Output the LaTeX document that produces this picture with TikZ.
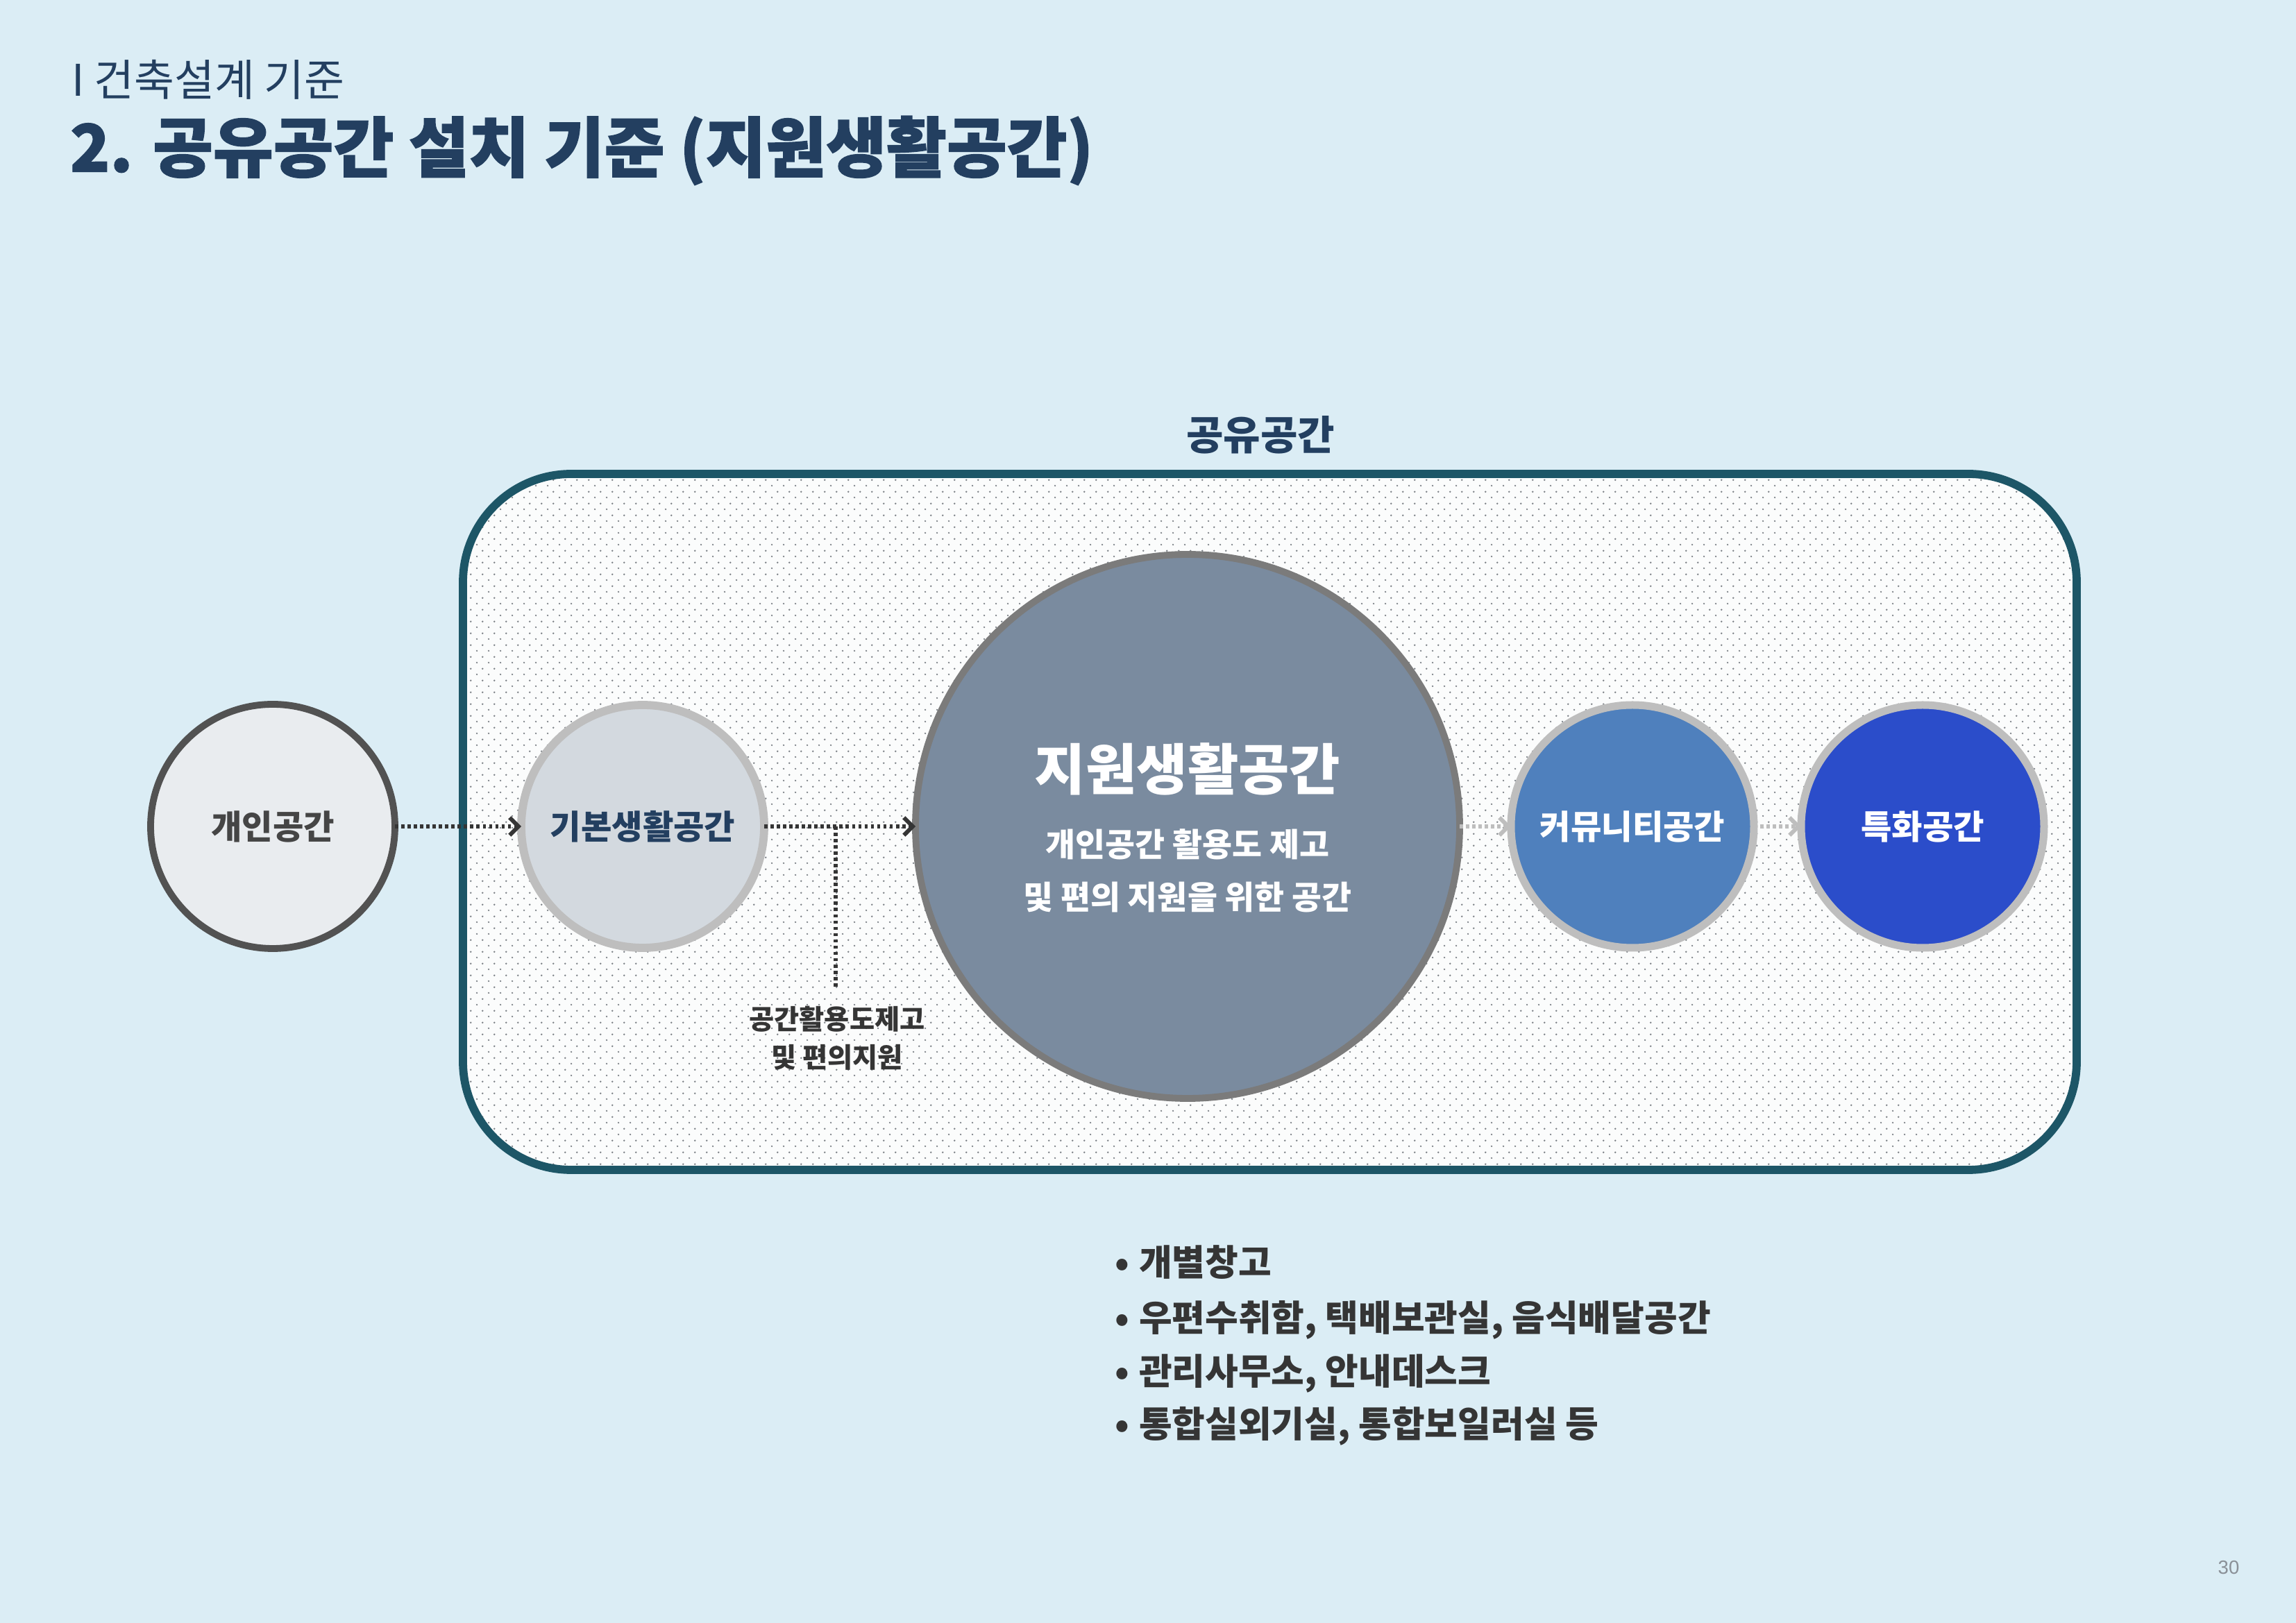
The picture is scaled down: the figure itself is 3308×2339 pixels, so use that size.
\documentclass[tikz,border=0pt]{standalone}
\usepackage{fontspec}
\setmainfont{Noto Sans CJK KR}
\newfontfamily\krheavy{Noto Sans CJK KR}[BoldFeatures={FakeBold=1.5}]
\newfontfamily\numfont{Liberation Sans}
\usetikzlibrary{arrows.meta,patterns}

\definecolor{bgc}{HTML}{DBEDF5}
\definecolor{navy}{HTML}{233F60}
\definecolor{framec}{HTML}{1D5667}
\definecolor{dotc}{HTML}{7C8186}
\definecolor{panelc}{HTML}{FBFCFC}
\definecolor{cafill}{HTML}{E9ECEF}
\definecolor{caline}{HTML}{525252}
\definecolor{cbfill}{HTML}{D3D9DF}
\definecolor{ring}{HTML}{BEBEBE}
\definecolor{bigfill}{HTML}{7A8B9F}
\definecolor{bigline}{HTML}{7B7B7B}
\definecolor{cdfill}{HTML}{4F80BD}
\definecolor{cefill}{HTML}{2B4DCA}
\definecolor{txt}{HTML}{353535}
\definecolor{txtb}{HTML}{454545}
\definecolor{pgnum}{HTML}{8A9097}

\pgfdeclarepatternformonly{dotgrid}{\pgfpointorigin}{\pgfpoint{4.24pt}{4.24pt}}{\pgfpoint{4.24pt}{4.24pt}}{%
  \pgfpathcircle{\pgfpoint{1.06pt}{1.06pt}}{0.34pt}%
  \pgfpathcircle{\pgfpoint{3.18pt}{3.18pt}}{0.34pt}%
  \pgfusepath{fill}}

\begin{document}
\begin{tikzpicture}[x=0.2545pt,y=-0.2545pt,
  every node/.style={inner sep=0pt, outer sep=0pt},
  ball/.style={circle, minimum size=#1*0.2545pt},
  flow/.style={line width=1.6pt, dash pattern=on 1.2pt off 1.1pt,
    -{Straight Barb[length=3.2pt,width=6.5pt,line width=1.5pt]}},
  dline/.style={line width=1.6pt, dash pattern=on 1.2pt off 1.1pt},
  circtxt/.style={font=\fontsize{12.3pt}{14pt}\selectfont\bfseries},
]
\useasboundingbox (0,0) rectangle (3308,2339);
\fill[bgc] (0,0) rectangle (3308,2339);

% titles
\node[anchor=west, text=navy, font=\fontsize{16pt}{19pt}\selectfont] (t1) at (103,115) {I 건축설계 기준};
\node[anchor=west, text=navy, font=\krheavy\fontsize{24pt}{28pt}\selectfont\bfseries] (t2) at (101,217) {2. 공유공간 설치 기준 (지원생활공간)};

% shared-space frame
\node[draw=framec, line width=3pt, rounded corners=39.7pt,
  minimum width=2325*0.2545pt, minimum height=1003*0.2545pt,
  preaction={fill=panelc}, pattern=dotgrid, pattern color=dotc] (shared) at (1829.5,1184.5) {};
\node[text=navy, font=\fontsize{14.8pt}{17pt}\selectfont\bfseries] (sharedlbl) at (1816,627) {공유공간};

% circles
\node[ball=352, draw=caline, line width=2.5pt, fill=cafill, circtxt, text=txtb] (ca) at (393,1191) {개인공간};
\node[ball=350, draw=ring, line width=3pt, fill=cbfill, circtxt, text=navy] (cb) at (926,1191) {기본생활공간};
\node[ball=784, draw=bigline, line width=2.5pt, fill=bigfill] (big) at (1711,1191) {};
\node[ball=350, draw=ring, line width=2.8pt, fill=cdfill, circtxt, text=white] (cd) at (2352,1191) {커뮤니티공간};
\node[ball=350, draw=ring, line width=2.8pt, fill=cefill, circtxt, text=white] (ce) at (2770,1191) {특화공간};

% big circle text
\node[text=white, font=\fontsize{20.3pt}{24pt}\selectfont\bfseries] (bigt) at (1711,1108) {지원생활공간};
\node[text=white, font=\fontsize{11.9pt}{14pt}\selectfont\bfseries] (bigs1) at (1711,1217) {개인공간 활용도 제고};
\node[text=white, font=\fontsize{11.9pt}{14pt}\selectfont\bfseries] (bigs2) at (1711,1293) {및 편의 지원을 위한 공간};

% connectors
\draw[flow, draw=txt] (ca) -- (cb);
\draw[flow, draw=txt] (cb) -- (big);
\draw[flow, draw=ring] (big) -- (cd);
\draw[flow, draw=ring] (cd) -- (ce);

\coordinate (jn) at (1204,1191);
\coordinate (jend) at (1204,1425);
\draw[dline, draw=txt] (jn) -- (jend);
\node[align=center, text=txt, font=\fontsize{10pt}{14pt}\selectfont\bfseries] (note) at (1206,1496) {공간활용도제고\\및 편의지원};

% bullet list
\node[anchor=base west, text=txt, font=\fontsize{13.2pt}{15pt}\selectfont\bfseries] (b1) at (1592,1839) {\makebox[12.5pt][c]{•}개별창고};
\node[anchor=base west, text=txt, font=\fontsize{13.2pt}{15pt}\selectfont\bfseries] (b2) at (1592,1919) {\makebox[12.5pt][c]{•}우편수취함, 택배보관실, 음식배달공간};
\node[anchor=base west, text=txt, font=\fontsize{13.2pt}{15pt}\selectfont\bfseries] (b3) at (1592,1996) {\makebox[12.5pt][c]{•}관리사무소, 안내데스크};
\node[anchor=base west, text=txt, font=\fontsize{13.2pt}{15pt}\selectfont\bfseries] (b4) at (1592,2072) {\makebox[12.5pt][c]{•}통합실외기실, 통합보일러실 등};

% page number
\node[text=pgnum, font=\numfont\fontsize{7pt}{8pt}\selectfont] (pg) at (3211,2259) {30};
\end{tikzpicture}
\end{document}
